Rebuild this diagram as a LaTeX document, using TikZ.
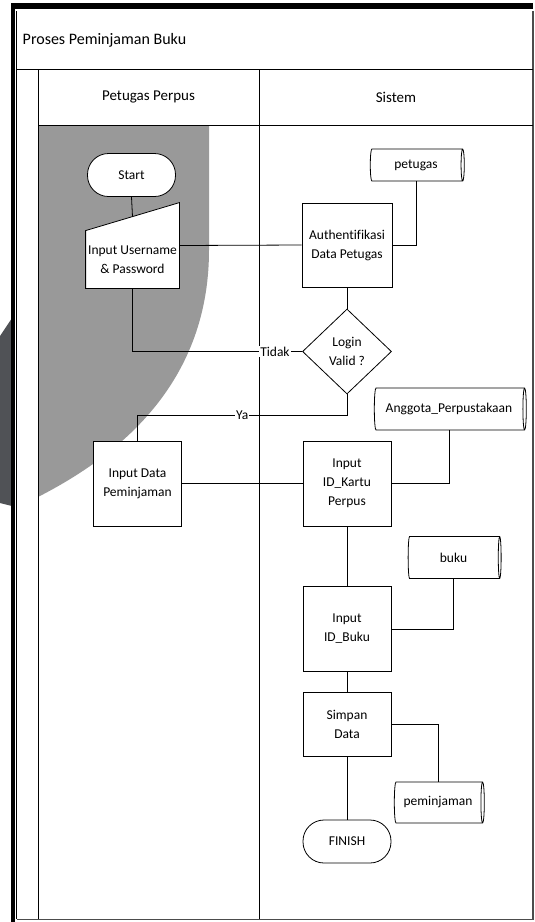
\documentclass[tikz,border=0pt]{standalone}
\usepackage{fontspec}
\setmainfont[Ligatures=NoCommon]{Carlito}
\usetikzlibrary{shapes.geometric}
\definecolor{wmgray}{RGB}{153,153,153}
\definecolor{wmdark}{RGB}{80,82,86}
\begin{document}
\begin{tikzpicture}[x=1pt,y=-1pt,line width=0.8pt,
    every node/.style={font=\fontsize{13.5}{19}\selectfont,align=center},
    proc/.style={draw,fill=white,minimum width=88pt,minimum height=85pt,inner sep=1pt},
    term/.style={draw,fill=white,rounded corners=21pt,minimum width=88pt,minimum height=43pt},
    decis/.style={diamond,draw,fill=white,minimum width=89pt,minimum height=85pt,inner sep=0pt},
    store/.style={cylinder,draw,fill=white,aspect=0.25,minimum width=42pt,inner sep=1pt},
    lbl/.style={fill=white,inner sep=1pt},
    lane/.style={font=\fontsize{15}{18}\selectfont}]
    \useasboundingbox (0,0) rectangle (535,922);
    \fill[wmdark] (0,336) -- (12,318) -- (12,506) -- (0,503) -- cycle;
    \fill[wmgray] (39,125) -- (209,125) -- (209,250) .. controls (209,390) and (110,460) .. (38,497) -- cycle;
    \fill (11,3) rectangle (533,9);
    \fill (11,3) rectangle (15,922);
    \draw (16.5,11) -- (16.5,919);
    \draw[black!70,line width=1.5pt] (16.5,919.5) -- (533,919.5) -- (533,11);
    \draw (16.5,69) -- (533,69);
    \draw (38,125) -- (533,125);
    \draw (38,69) -- (38,919);
    \draw (259,69) -- (259,919);
    \node[anchor=west,font=\fontsize{16}{19}\selectfont] (judul) at (19,40) {Proses Peminjaman Buku};
    \node[lane] (lpetugas) at (148.5,97) {Petugas Perpus};
    \node[lane] (lsistem) at (396,97) {Sistem};

    \node[term] (start) at (131.5,175) {Start};
    \node[minimum width=93pt,minimum height=85pt] (inp) at (132.5,245.5) {};
    \draw[fill=white] (inp.south west) -- ([yshift=-28pt]inp.north west) -- (inp.north east) -- (inp.south east) -- cycle;
    \node (inptxt) at (132.5,259.5) {Input Username\\\& Password};
    \coordinate (inpslant) at ([yshift=-14pt]inp.north);
    \node[proc,minimum width=90pt,minimum height=84pt] (auth) at (347,245) {Authentifikasi\\Data Petugas};
    \node[store,minimum height=94pt,minimum width=32pt] (pet) at (416,165) {petugas};
    \node[decis] (valid) at (347,351.5) {Login\\Valid ?};
    \node[store,minimum height=152pt] (ang) at (449,409) {Anggota\_Perpustakaan};
    \node[proc] (pinjam) at (137.5,483.5) {Input Data\\Peminjaman};
    \node[proc] (kartu) at (347,483.5) {Input\\ID\_Kartu\\Perpus};
    \node[store,minimum height=93pt] (buku) at (453.5,557.5) {buku};
    \node[proc] (idbuku) at (347,629) {Input\\ID\_Buku};
    \node[proc,minimum height=64pt] (simpan) at (347,724) {Simpan\\Data};
    \node[store,minimum height=90pt,minimum width=41pt] (pem) at (438,802.5) {peminjaman};
    \node[term] (finish) at (347,841.5) {FINISH};

    \draw (start.south) -- (inpslant);
    \draw (inp.east) -- (auth.west);
    \draw (pet.south) |- (auth.east);
    \draw (auth.south) -- (valid.north);
    \draw (valid.west) -| node[lbl,pos=0.08] (tidak) {Tidak} (inp.south);
    \draw (valid.south) -- ++(0,21) coordinate (yaturn) -| node[lbl,pos=0.25] (ya) {Ya} (pinjam.north);
    \draw (pinjam.east) -- (kartu.west);
    \draw (ang.south) |- (kartu.east);
    \draw (kartu.south) -- (idbuku.north);
    \draw (buku.south) |- (idbuku.east);
    \draw (idbuku.south) -- (simpan.north);
    \draw (simpan.east) -| (pem.north);
    \draw (simpan.south) -- (finish.north);
\end{tikzpicture}
\end{document}
